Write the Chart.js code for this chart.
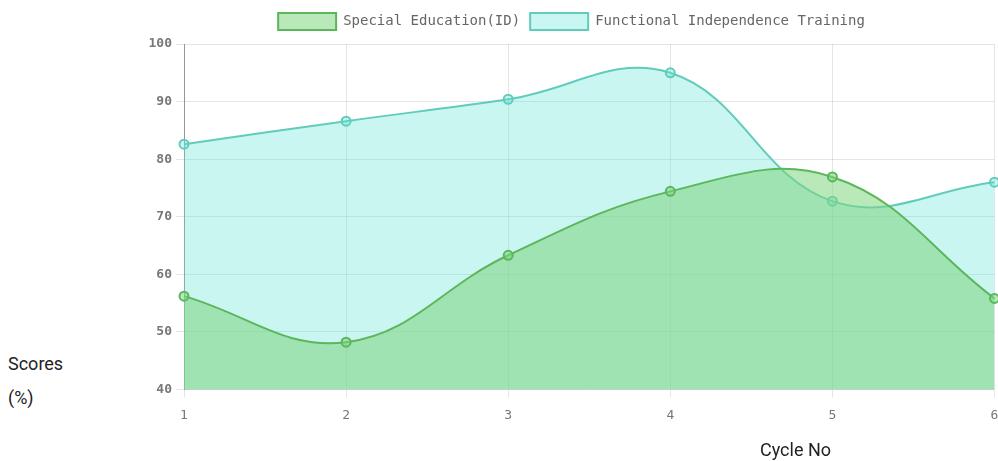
<!DOCTYPE html>
<html>
<head>
<meta charset="utf-8">
<script src="https://cdn.jsdelivr.net/npm/chart.js@4/dist/chart.umd.min.js"></script>
<style>
  html, body { margin: 0; padding: 0; background: #fff; overflow: hidden; }
  #wrap { position: relative; width: 998px; height: 461px; overflow: hidden; }
  #c { position: absolute; left: 143px; top: 0; }
  .ttl { position: absolute; font-family: Roboto, sans-serif; font-size: 18px; color: #222; line-height: 34px; }
</style>
</head>
<body>
<div id="wrap">
  <canvas id="c" width="858" height="461"></canvas>
  <div class="ttl" id="ytitle" style="left:8px; top:347px;">Scores<br>(%)</div>
  <div class="ttl" id="xtitle" style="left:760px; top:433px;">Cycle No</div>
</div>
<script>
const cycles = ['1', '2', '3', '4', '5', '6'];
const specialEducation = [56.2, 48.2, 63.3, 74.4, 76.9, 55.8];
const functionalTraining = [82.6, 86.6, 90.4, 95.0, 72.7, 76.0];
const seriesNames = ['Special Education(ID)', 'Functional Independence Training'];

const monoFont = '"DejaVu Sans Mono", "Liberation Mono", monospace';

const legendGap = {
  id: 'legendGap',
  beforeInit(chart) {
    const fit = chart.legend.fit;
    chart.legend.fit = function () {
      fit.bind(chart.legend)();
      this.height += 4;
    };
  }
};

new Chart(document.getElementById('c'), {
  type: 'line',
  data: {
    labels: cycles,
    datasets: [
      {
        label: seriesNames[0],
        data: specialEducation,
        borderColor: 'rgb(92,182,92)',
        backgroundColor: 'rgba(127,213,127,0.55)',
        pointBackgroundColor: 'rgba(127,213,127,0.55)',
        pointBorderColor: 'rgb(92,182,92)',
        borderWidth: 2,
        pointRadius: 4.5,
        pointBorderWidth: 2,
        tension: 0.4,
        fill: 'start'
      },
      {
        label: seriesNames[1],
        data: functionalTraining,
        borderColor: 'rgb(98,204,188)',
        backgroundColor: 'rgba(92,228,213,0.33)',
        pointBackgroundColor: 'rgba(92,228,213,0.33)',
        pointBorderColor: 'rgb(98,204,188)',
        borderWidth: 2,
        pointRadius: 4.5,
        pointBorderWidth: 2,
        tension: 0.4,
        fill: 'start'
      }
    ]
  },
  plugins: [legendGap],
  options: {
    responsive: false,
    animation: false,
    layout: { padding: { left: 0, right: 1, top: 3, bottom: 28 } },
    plugins: {
      legend: {
        display: true,
        position: 'top',
        labels: {
          boxWidth: 58,
          boxHeight: 17,
          color: '#666',
          font: { family: monoFont, size: 14 },
          padding: 10
        }
      },
      tooltip: { enabled: false }
    },
    scales: {
      x: {
        offset: false,
        grid: { color: 'rgba(0,0,0,0.1)', tickLength: 8 },
        border: { color: 'rgba(0,0,0,0.1)' },
        ticks: { color: '#777', font: { family: monoFont, size: 13 }, padding: 10 },
        afterFit: function (scale) { scale.paddingRight = 0; scale.paddingLeft = 0; }
      },
      y: {
        min: 40,
        max: 100,
        grid: { color: 'rgba(0,0,0,0.1)', tickLength: 8 },
        border: { color: 'rgba(0,0,0,0.35)' },
        ticks: { stepSize: 10, color: '#777', font: { family: monoFont, size: 13, weight: 'bold' }, padding: 4 },
        afterFit: function (scale) { scale.width = 41; }
      }
    }
  }
});
</script>
</body>
</html>
